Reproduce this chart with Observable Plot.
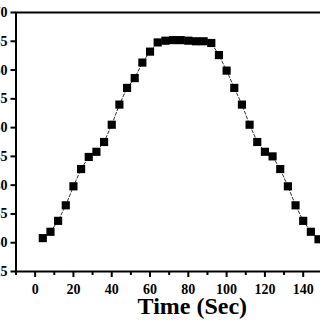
<!DOCTYPE html>
<html>
<head>
<meta charset="utf-8">
<script src="https://cdn.jsdelivr.net/npm/d3@7"></script>
<script src="https://cdn.jsdelivr.net/npm/@observablehq/plot@0.6"></script>
<style>
  html, body { margin: 0; padding: 0; background: white; }
  #wrap { width: 320px; height: 320px; overflow: hidden; position: relative; }
  #wrap svg { position: absolute; left: -30px; top: 0; }
</style>
</head>
<body>
<div id="wrap"></div>
<script>
const time = [4, 8, 12, 16, 20, 24, 28, 32, 36, 40, 44, 48, 52, 56, 60, 64, 68, 72, 76,
  80, 84, 88, 92, 96, 100, 104, 108, 112, 116, 120, 124, 128, 132, 136, 140, 144, 148];
const value = [30.8, 31.9, 33.8, 36.5, 39.8, 42.8, 44.9, 45.8, 47.5, 50.5, 54.0, 56.9, 58.6,
  61.3, 63.2, 64.8, 65.1, 65.2, 65.2, 65.1, 65.0, 65.0, 64.7, 62.6, 59.9, 56.9, 54.0, 50.5,
  47.5, 45.8, 45.0, 42.8, 39.8, 36.5, 33.8, 31.9, 30.6];
const xMajorTicks = [0, 20, 40, 60, 80, 100, 120, 140, 160];
const xMinorTicks = [-10, 10, 30, 50, 70, 90, 110, 130, 150];
const yTicks = [25, 30, 35, 40, 45, 50, 55, 60, 65, 70];
const xTitle = "Time (Sec)";

const data = time.map((t, i) => ({t, v: value[i]}));

const chart = Plot.plot({
  width: 400,
  height: 320,
  marginLeft: 45.5,
  marginRight: 29,
  marginTop: 12,
  marginBottom: 49,
  style: {maxWidth: "none", fontFamily: "'Liberation Serif', 'Times New Roman', serif", fontWeight: "bold", fontSize: "14px", background: "white", color: "black"},
  x: {domain: [-10, 160], axis: null},
  y: {domain: [25, 70], axis: null},
  marks: [
    Plot.line(data, {x: "t", y: "v", stroke: "#333", strokeWidth: 1, strokeDasharray: "3,2"}),
    Plot.dot(data, {x: "t", y: "v", symbol: "square", r: 4.6, fill: "black", stroke: "none"}),
    Plot.axisX({ticks: xMinorTicks, tickSize: 4, text: null, strokeWidth: 2, label: null}),
    Plot.axisX({ticks: xMajorTicks, tickSize: 6, tickPadding: 6.5, strokeWidth: 2, label: null, fontSize: 14, fontWeight: "bold"}),
    Plot.axisY({ticks: yTicks, tickSize: 5, tickPadding: 3.5, strokeWidth: 2, label: null, fontSize: 14, fontWeight: "bold"}),
    Plot.frame({stroke: "black", strokeWidth: 2}),
    Plot.text([xTitle], {frameAnchor: "bottom", lineAnchor: "middle", dy: 35, dx: 13.6, fontSize: 24, fontWeight: "bold", fill: "black"})
  ]
});
document.getElementById("wrap").appendChild(chart);
</script>
</body>
</html>
